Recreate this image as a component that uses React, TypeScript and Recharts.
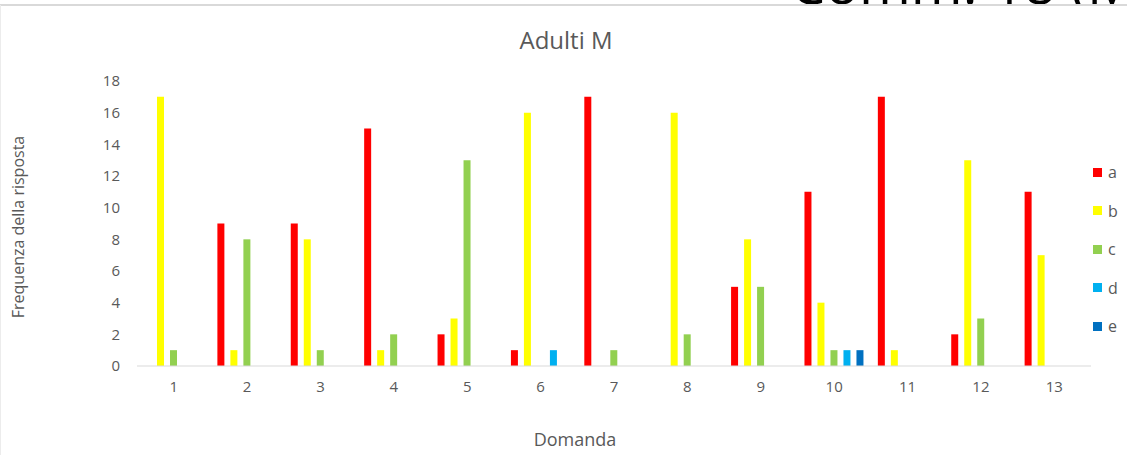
import React from "react";
import { BarChart, Bar, XAxis, YAxis, Legend } from "recharts";

const domande = ["1", "2", "3", "4", "5", "6", "7", "8", "9", "10", "11", "12", "13"];
const seriesA = [0, 9, 9, 15, 2, 1, 17, 0, 5, 11, 17, 2, 11];
const seriesB = [17, 1, 8, 1, 3, 16, 0, 16, 8, 4, 1, 13, 7];
const seriesC = [1, 8, 1, 2, 13, 0, 1, 2, 5, 1, 0, 3, 0];
const seriesD = [0, 0, 0, 0, 0, 1, 0, 0, 0, 1, 0, 0, 0];
const seriesE = [0, 0, 0, 0, 0, 0, 0, 0, 0, 1, 0, 0, 0];
const yTicks = [0, 2, 4, 6, 8, 10, 12, 14, 16, 18];

const seriesKeys = ["a", "b", "c", "d", "e"];
const colors: Record<string, string> = {
  a: "#FF0000",
  b: "#FFFF00",
  c: "#92D050",
  d: "#00B0F0",
  e: "#0070C0",
};

const data = domande.map((d, i) => ({
  name: d,
  a: seriesA[i],
  b: seriesB[i],
  c: seriesC[i],
  d: seriesD[i],
  e: seriesE[i],
}));

const font = "'Open Sans', sans-serif";
const grey = "#595959";

const LegendBox = (props: any) => {
  const items = props.payload || [];
  return (
    <div style={{ fontFamily: font }}>
      {items.map((it: any) => (
        <div
          key={it.value}
          style={{ display: "flex", alignItems: "center", height: 38.5 }}
        >
          <span
            style={{
              width: 9,
              height: 9,
              background: it.color,
              display: "inline-block",
              marginRight: 6,
            }}
          />
          <span style={{ fontSize: 16, color: grey }}>{it.value}</span>
        </div>
      ))}
    </div>
  );
};

export default function App() {
  return (
    <div
      style={{
        position: "fixed",
        left: 0,
        top: 0,
        width: 1127,
        height: 455,
        overflow: "hidden",
        background: "#fff",
      }}
    >
      {/* cropped heading from the page above the chart: only its foot shows */}
      <div
        style={{
          position: "absolute",
          left: 790,
          top: 0,
          width: 337,
          height: 4,
          overflow: "hidden",
        }}
      >
        <div
          style={{
            position: "absolute",
            left: 0,
            top: -46,
            fontFamily: font,
            fontSize: 56,
            lineHeight: "56px",
            color: "#000",
            whiteSpace: "nowrap",
          }}
        >
          Comm. 18 (M
        </div>
      </div>
      <div
        style={{
          position: "absolute",
          left: 0,
          top: 4,
          width: 1127,
          height: 2,
          background: "#d9d9d9",
        }}
      />
      <div
        style={{
          position: "absolute",
          left: 0,
          top: 5,
          width: 1,
          height: 450,
          background: "#ececec",
        }}
      />
      <div
        style={{
          position: "absolute",
          left: 0,
          width: 1132,
          top: 23,
          textAlign: "center",
          fontFamily: font,
          fontSize: 24,
          color: grey,
        }}
      >
        Adulti M
      </div>
      <div
        style={{
          position: "absolute",
          left: 18,
          top: 227,
          transform: "translate(-50%, -50%) rotate(-90deg)",
          whiteSpace: "nowrap",
          fontFamily: font,
          fontSize: 16,
          color: grey,
        }}
      >
        Frequenza della risposta
      </div>
      <BarChart
        width={1127}
        height={455}
        data={data}
        barSize={7}
        barGap={6}
        margin={{ top: 81, right: 6, bottom: 59, left: 77 }}
        style={{ position: "absolute", left: 0, top: 0 }}
      >
        <XAxis
          dataKey="name"
          height={30}
          tickLine={false}
          tickSize={0}
          tickMargin={15}
          stroke="#d9d9d9"
          tick={{ fill: grey, fontSize: 15, fontFamily: font }}
          label={{
            value: "Domanda",
            position: "bottom",
            offset: 37,
            dx: -39,
            fill: grey,
            fontSize: 18,
            fontFamily: font,
          }}
        />
        <YAxis
          width={60}
          domain={[0, 18]}
          ticks={yTicks}
          axisLine={false}
          tickLine={false}
          tickSize={0}
          tickMargin={17}
          tick={{ fill: grey, fontSize: 15, fontFamily: font }}
        />
        <Legend
          layout="vertical"
          verticalAlign="top"
          align="right"
          content={<LegendBox />}
          wrapperStyle={{ position: "absolute", left: 1093, top: 153, width: 30 }}
        />
        {seriesKeys.map((k) => (
          <Bar
            key={k}
            dataKey={k}
            name={k}
            fill={colors[k]}
            isAnimationActive={false}
          />
        ))}
      </BarChart>
    </div>
  );
}
